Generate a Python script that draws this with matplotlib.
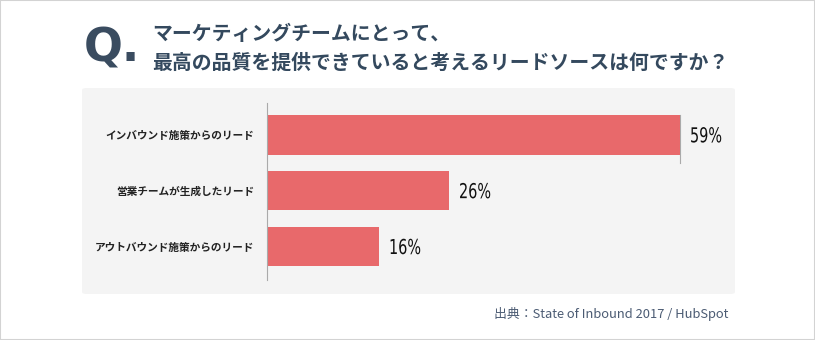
import matplotlib
matplotlib.use("Agg")
import matplotlib.pyplot as plt
from matplotlib.patches import FancyBboxPatch, Rectangle, PathPatch
from matplotlib.textpath import TextPath
from matplotlib.font_manager import FontProperties
from matplotlib.transforms import Affine2D, ScaledTranslation

plt.rcParams['font.family'] = ['Noto Sans CJK JP', 'DejaVu Sans']

# data
categories = ["インバウンド施策からのリード", "営業チームが生成したリード", "アウトバウンド施策からのリード"]
values = [59, 26, 16]
title_lines = ["マーケティングチームにとって、", "最高の品質を提供できていると考えるリードソースは何ですか？"]
source = "出典：State of Inbound 2017 / HubSpot"

W, H = 815, 340
DPI = 100
fig = plt.figure(figsize=(W / DPI, H / DPI), dpi=DPI)
fig.patch.set_facecolor("white")

def fx(px):
    return px / W

def fy(py):
    return 1 - py / H

# outer border
fig.patches.append(Rectangle((0, 0), 1, 1, transform=fig.transFigure,
                             facecolor="none", edgecolor="#d3d3d3", lw=1.5, zorder=-2))
# gray panel
fig.patches.append(FancyBboxPatch((fx(82), fy(294)), fx(735) - fx(82), fy(88) - fy(294),
                                  boxstyle="round,pad=0,rounding_size=0.006",
                                  transform=fig.transFigure, facecolor="#f4f4f4",
                                  edgecolor="none", zorder=-1))

# title
fig.text(fx(84), fy(61), "Q.", fontsize=33, fontweight="bold", color="#3a4c60",
         va="baseline", ha="left", family=["DejaVu Sans"])
fig.text(fx(152), fy(33), title_lines[0], fontsize=14.3, fontweight="bold",
         color="#34495e", va="center", ha="left")
fig.text(fx(152), fy(62), title_lines[1], fontsize=14.3, fontweight="bold",
         color="#34495e", va="center", ha="left")

# axes
x0 = 267
ax = fig.add_axes([fx(x0), fy(280), fx(490), fy(103) - fy(280)], zorder=2)
ax.set_facecolor("none")
ypos = list(range(len(categories)))
ax.barh(ypos, values, height=0.71, color="#e8696b", zorder=2)
ax.set_xlim(0, 70)
ax.set_ylim(2.6, -0.57)
for s in ["top", "right", "bottom"]:
    ax.spines[s].set_visible(False)
ax.spines["left"].set_color("#aaaaaa")
ax.spines["left"].set_linewidth(0.8)
ax.set_xticks([])
ax.set_yticks(ypos)
ax.set_yticklabels(categories, fontsize=7.7, fontweight="bold", color="#222222")
ax.tick_params(axis="y", length=0, pad=9)
# thin mark at end of top bar
ax.plot([values[0], values[0]], [-0.36, 0.5], color="#aaaaaa", lw=0.8, zorder=1)

# condensed value labels
num_font = FontProperties(family="DejaVu Sans")
em = 20.6
for y, v in zip(ypos, values):
    tp = TextPath((0, 0), f"{v}%", size=em, prop=num_font)
    tr = (Affine2D().scale(0.70, 1.0).translate(10, -7.5)
          + ScaledTranslation(v, y, ax.transData))
    ax.add_patch(PathPatch(tp, transform=tr, facecolor="#111111",
                           edgecolor="none", clip_on=False, zorder=3))

fig.text(fx(728), fy(314), source, fontsize=9.3, color="#4b5b73", ha="right", va="center")

fig.savefig("out.png", dpi=DPI)
